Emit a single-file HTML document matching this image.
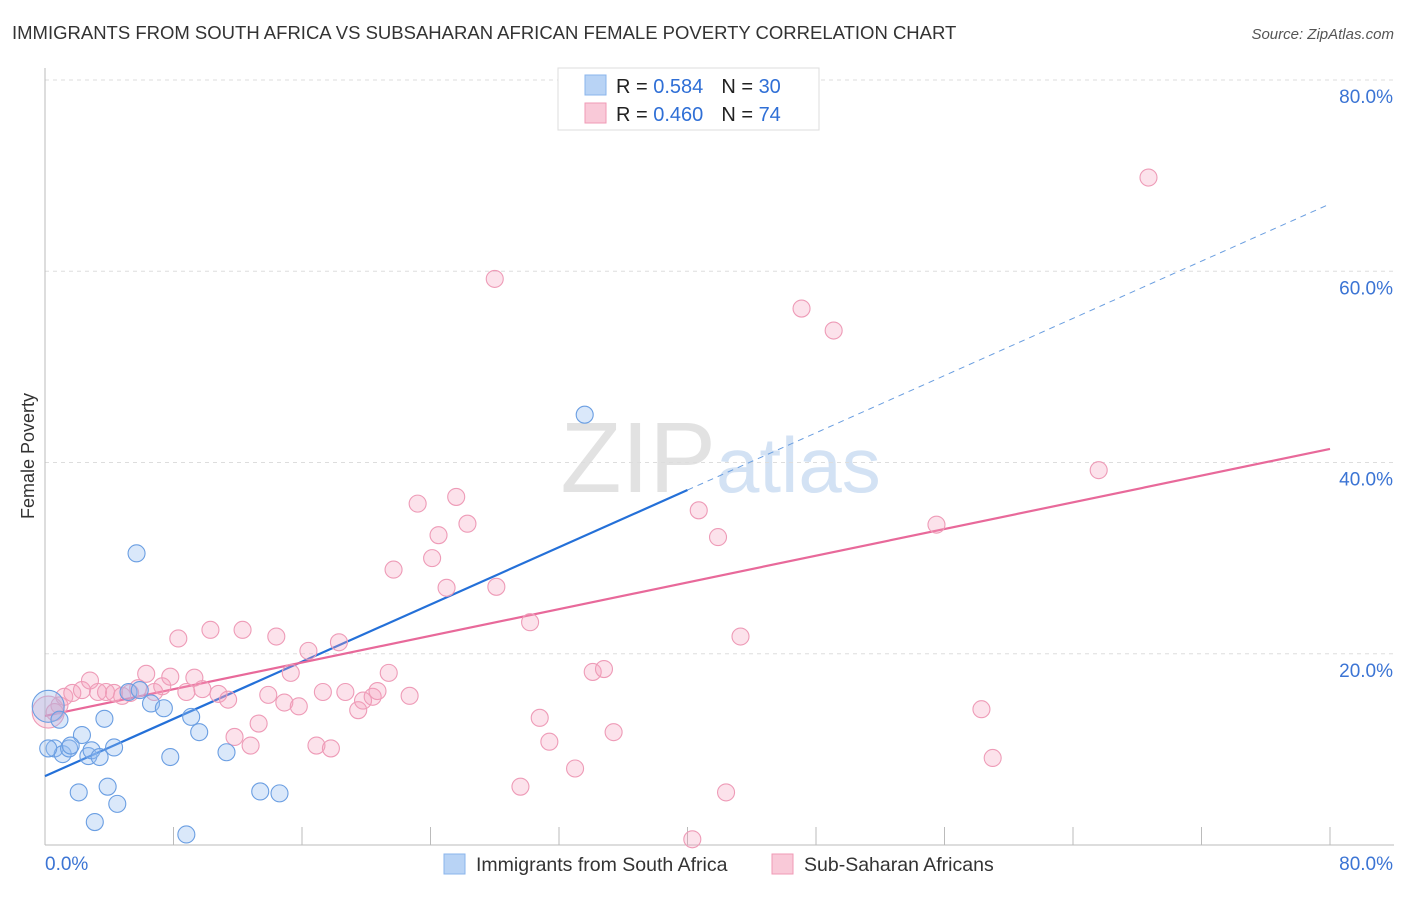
<!DOCTYPE html>
<html><head><meta charset="utf-8"><style>
body{margin:0;background:#fff;font-family:"Liberation Sans",sans-serif;}
svg text{font-family:"Liberation Sans",sans-serif;}
</style></head><body>
<svg id="chart" width="1406" height="892">
<text x="12" y="39" font-size="18.5" fill="#333">IMMIGRANTS FROM SOUTH AFRICA VS SUBSAHARAN AFRICAN FEMALE POVERTY CORRELATION CHART</text>
<text x="1394" y="39" font-size="15" fill="#555" font-style="italic" text-anchor="end">Source: ZipAtlas.com</text>
<text transform="translate(34,456) rotate(-90)" font-size="18" fill="#333" text-anchor="middle">Female Poverty</text>
<text x="716" y="492" font-size="100" fill="#e2e2e2" text-anchor="end" font-family="Liberation Serif">ZIP</text>
<text x="716" y="492" font-size="78" fill="#d3e2f4">atlas</text>
<g id="grid"></g><g id="axes"></g><g id="trend"></g><g id="pts"></g>
<g>
<rect x="558" y="68" width="261" height="62" fill="#fff" stroke="#ddd"/>
<rect x="585" y="75" width="21" height="20" fill="#b8d3f5" stroke="#8ab4ec"/>
<text x="616" y="93" font-size="20" fill="#222">R = <tspan fill="#2f6fd6">0.584</tspan><tspan dx="18">N = </tspan><tspan fill="#2f6fd6">30</tspan></text>
<rect x="585" y="103" width="21" height="20" fill="#f9c9d8" stroke="#f09ab6"/>
<text x="616" y="121" font-size="20" fill="#222">R = <tspan fill="#2f6fd6">0.460</tspan><tspan dx="18">N = </tspan><tspan fill="#2f6fd6"> 74</tspan></text>
</g>
<g>
<rect x="444" y="854" width="21" height="20" fill="#b8d3f5" stroke="#8ab4ec"/>
<text x="476" y="871" font-size="19.5" fill="#333">Immigrants from South Africa</text>
<rect x="772" y="854" width="21" height="20" fill="#f9c9d8" stroke="#f09ab6"/>
<text x="804" y="871" font-size="19.5" fill="#333">Sub-Saharan Africans</text>
</g>
</svg>
<script>
const blueX=[0.2,0.6,1.1,1.5,2.3,2.7,2.9,3.4,3.7,4.3,2.1,3.9,4.5,3.1,5.7,5.2,5.9,6.6,7.4,7.8,9.1,9.6,11.3,13.4,14.6,8.8,33.6,0.2,0.9,1.6];
const blueY=[14.5,10.1,9.5,10.1,11.5,9.3,9.9,9.2,13.2,10.2,5.5,6.1,4.3,2.4,30.5,16.0,16.2,14.8,14.3,9.2,13.4,11.8,9.7,5.6,5.4,1.1,45.0,10.1,13.1,10.4];
const pinkX=[0.2,0.9,1.2,1.7,2.3,2.8,3.3,3.8,4.3,4.8,5.3,5.8,6.3,6.8,7.3,7.8,8.3,8.8,9.3,9.8,10.3,10.8,11.4,11.8,12.3,12.8,13.3,13.9,14.4,14.9,15.3,15.8,16.4,16.9,17.3,17.8,18.3,18.7,19.5,19.8,20.4,20.7,21.4,21.7,22.7,23.2,24.1,24.5,25.0,25.6,26.3,28.1,28.0,29.6,30.2,30.8,31.4,33.0,34.1,34.8,35.4,40.3,40.7,41.9,42.4,43.3,47.1,49.1,55.5,58.3,59.0,65.6,68.7,0.6];
const pinkY=[13.9,14.6,15.5,15.9,16.2,17.2,16.0,16.0,15.9,15.6,15.9,16.4,17.9,16.0,16.6,17.6,21.6,16.0,17.5,16.3,22.5,15.8,15.2,11.3,22.5,10.4,12.7,15.7,21.8,14.9,18.0,14.5,20.3,10.4,16.0,10.1,21.2,16.0,14.1,15.1,15.5,16.1,18.0,28.8,15.6,35.7,30.0,32.4,26.9,36.4,33.6,27.0,59.2,6.1,23.3,13.3,10.8,8.0,18.1,18.4,11.8,0.6,35.0,32.2,5.5,21.8,56.1,53.8,33.5,14.2,9.1,39.2,69.8,13.9];
const yTicks=[20,40,60,80];
const yTickLabels=["20.0%","40.0%","60.0%","80.0%"];
const blueTrend=[7.2,0.748];
const pinkTrend=[13.5,0.349];
const NS="http://www.w3.org/2000/svg";
const X0=45,X1=1330,Y0=845,Y80=80;
const sx=v=>X0+(X1-X0)*v/80;
const sy=v=>Y0-(Y0-Y80)*v/80;
function mk(tag,attrs,parent){const e=document.createElementNS(NS,tag);for(const k in attrs)e.setAttribute(k,attrs[k]);parent.appendChild(e);return e;}
const grid=document.getElementById('grid'),axes=document.getElementById('axes'),trend=document.getElementById('trend'),pts=document.getElementById('pts');
yTicks.forEach((t,i)=>{
 const l=mk('line',{x1:X0,x2:1394,y1:sy(t),y2:sy(t),stroke:'#ddd','stroke-dasharray':'4,4'},grid);
 
 
 const tx=mk('text',{x:1393,y:sy(t)+23,'font-size':19,fill:'#3b74d4','text-anchor':'end'},grid);
 tx.textContent=yTickLabels[i];
 
 
});
const ax=mk('line',{x1:X0,x2:X0,y1:68,y2:Y0,stroke:'#bbb'},axes);


const bx=mk('line',{x1:X0,x2:1394,y1:Y0,y2:Y0,stroke:'#bbb'},axes);


for(let i=1;i<=10;i++){const t=mk('line',{x1:sx(i*8),x2:sx(i*8),y1:Y0-18,y2:Y0,stroke:'#bbb'},axes);
 
 }
[[45,'0.0%','start'],[1393,'80.0%','end']].forEach(a=>{const t=mk('text',{x:a[0],y:870,'font-size':19,fill:'#3b74d4','text-anchor':a[2]},axes);t.textContent=a[1];
 
 });
function dot(x,y,r,fill,stroke,name){const c=mk('circle',{cx:sx(x),cy:sy(y),r:r,fill:fill,stroke:stroke,'stroke-width':1.1},pts);
 
 }
pinkX.forEach((x,i)=>dot(x,pinkY[i],i===0?16:8.5,'rgba(246,160,190,0.3)','#ee9bb7','pink-point'));
blueX.forEach((x,i)=>dot(x,blueY[i],i===0?16:8.5,'rgba(150,190,240,0.35)','#6a9ee2','blue-point'));
const b1=mk('line',{x1:sx(0),y1:sy(blueTrend[0]),x2:sx(40),y2:sy(blueTrend[0]+blueTrend[1]*40),stroke:'#2470d8','stroke-width':2.2},trend);


const b2=mk('line',{x1:sx(40),y1:sy(blueTrend[0]+blueTrend[1]*40),x2:sx(79.8),y2:sy(blueTrend[0]+blueTrend[1]*79.8),stroke:'#6a9ee0','stroke-width':1,'stroke-dasharray':'6,5'},trend);


const p1=mk('line',{x1:sx(0),y1:sy(pinkTrend[0]),x2:sx(80),y2:sy(pinkTrend[0]+pinkTrend[1]*80),stroke:'#e8699a','stroke-width':2.2},trend);


</script>
</body></html>
